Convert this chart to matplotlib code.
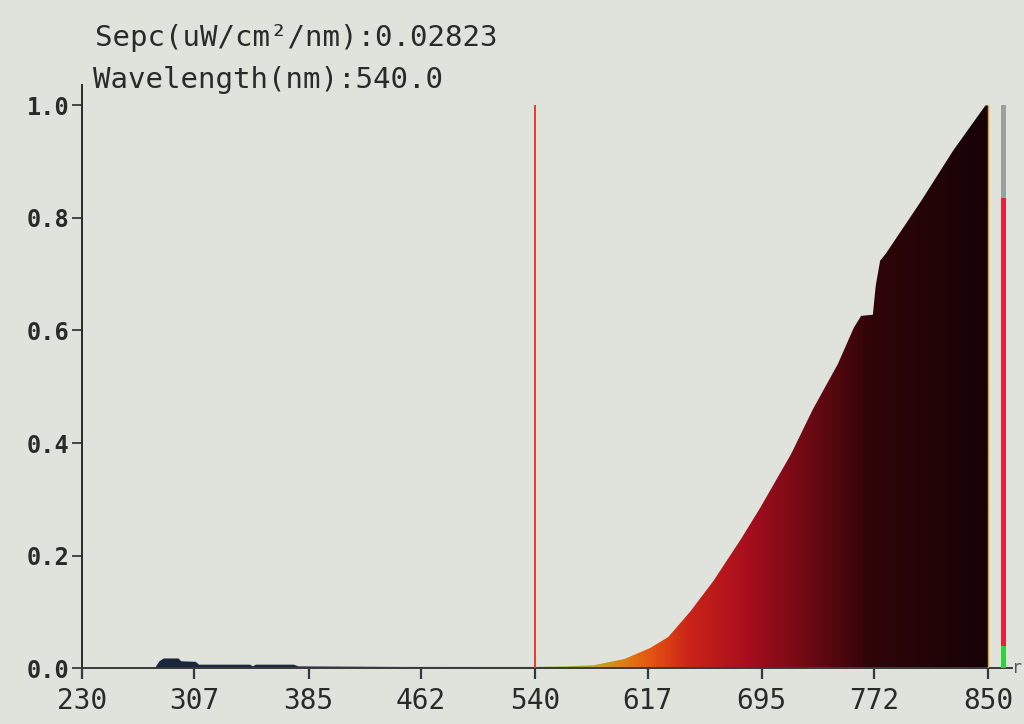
import numpy as np
import matplotlib
matplotlib.use("Agg")
import matplotlib.pyplot as plt
from matplotlib.colors import LinearSegmentedColormap

# spectrum (nm, relative intensity)
wavelength = [230, 280, 283, 286, 296, 298, 308, 310, 345, 347, 349, 375, 378,
              450, 540, 560, 580, 601, 619, 631, 646, 662, 681, 694, 715, 730,
              747, 758, 763, 771, 773, 776, 780, 804, 826, 848, 850]
intensity = [0.0, 0.0, 0.012, 0.017, 0.017, 0.012, 0.011, 0.006, 0.006, 0.003,
             0.006, 0.006, 0.003, 0.002, 0.002, 0.003, 0.005, 0.016, 0.036,
             0.055, 0.10, 0.155, 0.23, 0.285, 0.38, 0.46, 0.54, 0.605, 0.626,
             0.628, 0.68, 0.724, 0.737, 0.83, 0.92, 1.0, 1.0]

xticks = [230, 307, 385, 462, 540, 617, 695, 772, 850]
yticks = [0.0, 0.2, 0.4, 0.6, 0.8, 1.0]

cursor_nm = 540.0
cursor_value = 0.02823

# level indicator on the right: green / red / grey segments
level_x = 860.2
level_bounds = [0.0, 0.039, 0.836, 1.0]
level_colors = ["#30d040", "#e8203a", "#9aa09c"]

# colour of the fill along the wavelength axis
spec_stops = [(230, "#1a2438"), (380, "#1c2a44"), (430, "#22306a"),
              (462, "#2850a8"), (495, "#2a88a0"), (520, "#48a050"),
              (555, "#90b828"), (585, "#c8a018"), (605, "#e07410"),
              (620, "#e45212"), (645, "#cc2418"), (685, "#a80e1e"),
              (725, "#700a14"), (770, "#300508"), (850, "#160306")]

bg = "#dfe3dc"
ink = "#2a2a2a"

fig = plt.figure(figsize=(10.24, 7.24), dpi=100, facecolor=bg)
ax = fig.add_axes([0.080, 0.0773, 0.908, 0.805], facecolor=bg)

xmin, xmax = 230, 866
ax.set_xlim(xmin, xmax)
ax.set_ylim(0, 1.036)

# spectrum fill with wavelength gradient
poly = ax.fill_between(wavelength, 0, intensity, color="none", lw=0)
lo, hi = spec_stops[0][0], spec_stops[-1][0]
cmap = LinearSegmentedColormap.from_list(
    "spec", [((w - lo) / (hi - lo), c) for w, c in spec_stops])
grad = np.linspace(0, 1, 1200)[None, :]
img = ax.imshow(grad, cmap=cmap, aspect="auto", extent=[lo, hi, 0, 1.0],
                origin="lower", zorder=2)
paths = poly.get_paths()
img.set_clip_path(paths[0], transform=ax.transData)

# cursor line and right edge line
ax.vlines(cursor_nm, 0, 1.0, color="#e83a2a", lw=1.4, zorder=3)
ax.vlines(850, 0, 1.0, color="#e0a040", lw=1.0, zorder=3)

# level indicator
for i, c in enumerate(level_colors):
    ax.bar(level_x, level_bounds[i + 1] - level_bounds[i], bottom=level_bounds[i],
           width=3.2, color=c, lw=0, zorder=3)

# axes styling
for s in ["top", "right"]:
    ax.spines[s].set_visible(False)
ax.spines["left"].set_color(ink)
ax.spines["left"].set_linewidth(1.4)
ax.spines["bottom"].set_color("#3a3a3a")
ax.spines["bottom"].set_linewidth(1.4)

ax.set_xticks(xticks)
ax.set_xticklabels([str(t) for t in xticks])
ax.set_yticks(yticks)
ax.set_yticklabels([f"{t:.1f}" for t in yticks])
ax.tick_params(axis="x", direction="out", length=8, width=1.6, color="#303848",
               pad=6, labelsize=20, labelcolor=ink)
ax.tick_params(axis="y", direction="out", length=7, width=1.2, color=ink,
               pad=2, labelsize=17, labelcolor=ink)
for lab in ax.get_xticklabels() + ax.get_yticklabels():
    lab.set_family("DejaVu Sans Mono")
for lab in ax.get_yticklabels():
    lab.set_fontweight("bold")

# readout text
fig.text(95 / 1024, 1 - 38 / 724, f"Sepc(uW/cm\u00b2/nm):{cursor_value:.5f}",
         family="DejaVu Sans Mono", fontsize=21, color=ink, va="center")
fig.text(93 / 1024, 1 - 80 / 724, f"Wavelength(nm):{cursor_nm:.1f}",
         family="DejaVu Sans Mono", fontsize=21, color=ink, va="center")
fig.text(1012 / 1024, 1 - 668 / 724, "r", family="DejaVu Sans Mono",
         fontsize=12, color="#555555", va="center")

fig.savefig("out.png", dpi=100, facecolor=bg)
